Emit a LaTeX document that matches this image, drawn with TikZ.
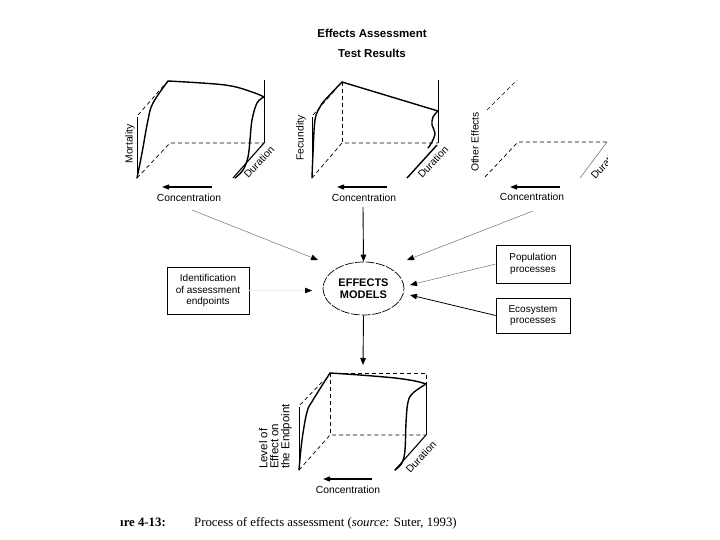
\documentclass[tikz,border=0pt]{standalone}
\usepackage{fontspec}
\setmainfont{Liberation Sans}
\newfontfamily\capfont{Liberation Serif}
\usetikzlibrary{arrows.meta,shapes.geometric}
\begin{document}
\begin{tikzpicture}[x=1pt,y=-1pt,
 lab/.style={font=\fontsize{10.3}{11}\selectfont, inner sep=0pt},
 ttl/.style={font=\bfseries\fontsize{11.5}{12}\selectfont, inner sep=0pt},
 axis/.style={line width=0.9pt},
 curve/.style={line width=1.4pt, line join=round, line cap=round},
 dsh/.style={line width=0.7pt, dash pattern=on 4pt off 3pt},
 conc/.style={line width=1.1pt, -{Triangle[length=7pt,width=5pt]}},
 feed/.style={line width=0.5pt, draw=black!55, -{Triangle[length=7pt,width=5.5pt,color=black]}},
 main/.style={line width=0.9pt, -{Triangle[length=7pt,width=5.5pt]}},
 tbox/.style={draw, line width=0.8pt, align=center, font=\fontsize{10}{11.5}\selectfont, inner sep=0pt},
]
\fill[white] (0,0) rectangle (720,540);
\useasboundingbox (0,0) rectangle (720,540);

% titles
\node[ttl] (title) at (372,33) {Effects Assessment};
\node[ttl] (sub) at (372,53) {Test Results};

% ---------- panel 1 : Mortality ----------
\draw[axis] (137,117) -- (137,178);
\draw[dsh] (137,178) -- (170,143) -- (264,143);
\draw[dsh] (138,115) -- (166,83);
\draw[axis] (264,80) -- (264,143);
\draw[line width=1.1pt] (233,178) -- (264,143);
\draw[curve] plot[smooth, tension=0.6] coordinates {(137,178) (142,153) (148,120) (153,103) (168,81)};
\draw[curve] plot[smooth, tension=0.6] coordinates {(168,81) (225,85) (252,92) (264,97)};
\draw[curve] plot[smooth, tension=0.6] coordinates {(264,97) (257,103) (252,120) (250,140) (248,157) (243,170) (235,178)};
\node[lab, rotate=90] (mort) at (130,144) {Mortality};
\node[lab, rotate=47] (dur1) at (259,162) {Duration};
\coordinate (a1s) at (212,187); \coordinate (a1e) at (162,187);
\draw[conc] (a1s) -- (a1e);
\node[lab] (conc1) at (189,198) {Concentration};

% ---------- panel 2 : Fecundity ----------
\draw[axis] (312,117) -- (312,178);
\draw[dsh] (312,178) -- (342,143) -- (438,143);
\draw[dsh] (342,82) -- (342,143);
\draw[dsh] (313,115) -- (336,89);
\draw[axis] (438,80) -- (438,143);
\draw[curve] (342,82) -- (438,111);
\draw[line width=1.4pt] (407,178) -- (437,145);
\draw[curve] plot[smooth, tension=0.6] coordinates {(312,178) (313,153) (315,120) (320,107) (325,100) (342,82)};
\draw[curve] plot[smooth, tension=0.6] coordinates {(438,111) (433,117) (432,125) (435,133) (432,142) (428,148)};
\node[lab, rotate=90] (fec) at (301,138) {Fecundity};
\node[lab, rotate=47] (dur2) at (433,162) {Duration};
\coordinate (a2s) at (387,187); \coordinate (a2e) at (337,187);
\draw[conc] (a2s) -- (a2e);
\node[lab] (conc2) at (364,198) {Concentration};

% ---------- panel 3 : Other Effects ----------
\begin{scope}
\clip (0,0) rectangle (607.5,540);
\draw[dsh] (485,177) -- (518,142) -- (607,142);
\draw[dsh] (487,110) -- (517,80);
\draw[line width=0.5pt, black!60] (580,178) -- (607,142);
\node[lab, rotate=90] (oth) at (475,142) {Other Effects};
\node[lab, rotate=47] (dur3) at (606,163) {Duration};
\coordinate (a3s) at (560,187); \coordinate (a3e) at (510,187);
\draw[conc] (a3s) -- (a3e);
\node[lab] (conc3) at (532,197) {Concentration};
\end{scope}

% ---------- middle ----------
\node[draw, ellipse, minimum width=81pt, minimum height=53pt, inner sep=0pt,
      line width=0.7pt, dash pattern=on 9pt off 1.5pt, align=center,
      font=\bfseries\fontsize{11}{11.5}\selectfont] (em) at (363.5,288.5) {EFFECTS\\MODELS};
\node[tbox, minimum width=82pt, minimum height=47pt] (ident) at (208,290.5) {Identification\\of assessment\\endpoints};
\node[tbox, minimum width=74pt, minimum height=38pt] (pop) at (533,264) {Population\\processes};
\node[tbox, minimum width=74pt, minimum height=35pt] (eco) at (533,315.5) {Ecosystem\\processes};

\coordinate (t2) at (363,207);
\draw[main] (t2) -- (em.north);
\coordinate (s1) at (192,210); \coordinate (e1) at (318,260);
\draw[feed] (s1) -- (e1);
\coordinate (s3) at (533,211); \coordinate (e3) at (407,260);
\draw[feed] (s3) -- (e3);
\coordinate (ep) at (410,285);
\draw[feed] (pop.west) -- (ep);
\coordinate (ee) at (410,295);
\draw[main, line width=0.8pt] (eco.west) -- (ee);
\coordinate (ei) at (312,290.5);
\draw[line width=0.4pt, draw=black!8, -{Triangle[length=7pt,width=5.5pt,color=black]}] (ident.east) -- (ei);
\coordinate (b2) at (363,365);
\draw[main] (em.south) -- (b2);

% ---------- bottom cube ----------
\draw[axis] (299,407) -- (299,470);
\draw[dsh] (299,470) -- (330,435) -- (426,435);
\draw[dsh] (330,373) -- (330,435);
\draw[dsh] (330,373) -- (426,373) -- (426,384);
\draw[dsh] (300,405) -- (323,381);
\draw[axis] (426,384) -- (426,435);
\draw[line width=1.1pt] (395,470) -- (426,435);
\draw[curve] plot[smooth, tension=0.6] coordinates {(330,373) (360,375) (395,378) (415,381) (426,384)};
\draw[curve] plot[smooth, tension=0.6] coordinates {(299,470) (302,440) (307,412) (313,400) (330,373)};
\draw[curve] plot[smooth, tension=0.6] coordinates {(426,384) (413,393) (408,402) (406,423) (405,450) (402,463) (395,470)};
\node[lab, rotate=90, align=left, anchor=west, font=\fontsize{11.5}{11}\selectfont] (lev) at (275.5,469) {Level of\\Effect on\\the Endpoint};
\node[lab, rotate=47] (dur4) at (421,457) {Duration};
\coordinate (a4s) at (372,479); \coordinate (a4e) at (323,479);
\draw[conc] (a4s) -- (a4e);
\node[lab] (conc4) at (348,490) {Concentration};

% ---------- caption ----------
\node[anchor=base west, inner sep=0pt, font=\capfont\bfseries\fontsize{12.8}{14}\selectfont] (fig) at (120,526) {ıre 4-13:};
\node[anchor=base west, inner sep=0pt, font=\capfont\fontsize{12.8}{14}\selectfont] (cap) at (194,526) {Process of effects assessment (\textit{source:} Suter, 1993)};
\end{tikzpicture}
\end{document}
